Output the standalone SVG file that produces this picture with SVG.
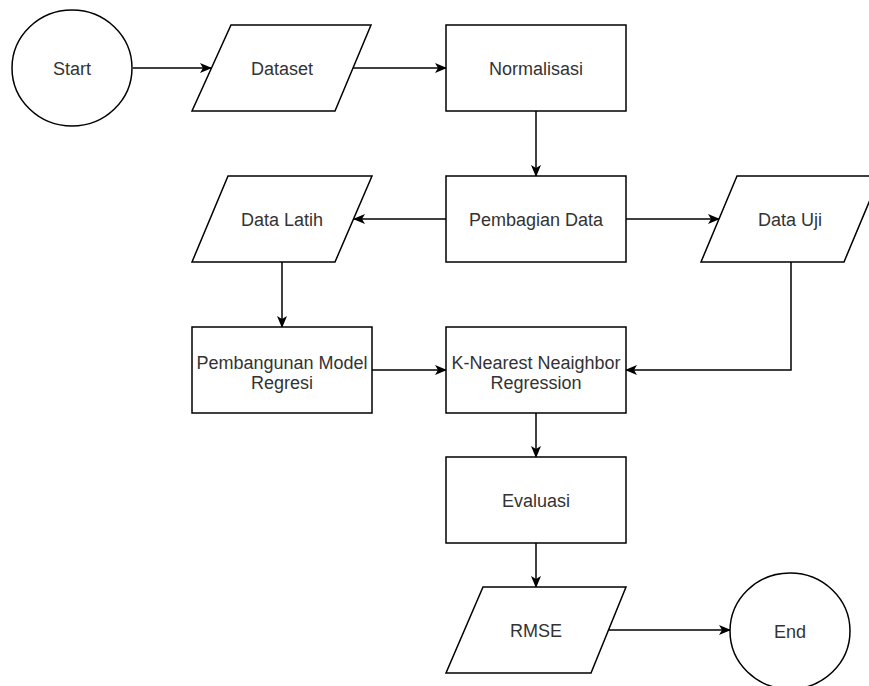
<svg xmlns="http://www.w3.org/2000/svg" width="869" height="686" viewBox="0 0 869 686">
<style>
.s{fill:#fff;stroke:#000;stroke-width:1.5}
.c{fill:none;stroke:#000;stroke-width:1.5}
text{font-family:"Liberation Sans",Arial,sans-serif;font-size:18px;fill:#333;text-anchor:middle}
</style>
<defs>
<marker id="a" viewBox="0 0 12 10" refX="11" refY="5" markerWidth="12" markerHeight="10" markerUnits="userSpaceOnUse" orient="auto">
<path d="M0,0 L12,5 L0,10 L3,5 Z" fill="#000"/>
</marker>
</defs>
<rect width="869" height="686" fill="#fff"/>
<g id="connectors">
<line class="c" x1="133" y1="68" x2="211" y2="68" marker-end="url(#a)"/>
<line class="c" x1="353" y1="68" x2="446" y2="68" marker-end="url(#a)"/>
<line class="c" x1="536" y1="111" x2="536" y2="176" marker-end="url(#a)"/>
<line class="c" x1="446" y1="219" x2="354" y2="219" marker-end="url(#a)"/>
<line class="c" x1="626" y1="219" x2="719" y2="219" marker-end="url(#a)"/>
<line class="c" x1="282" y1="262" x2="282" y2="327" marker-end="url(#a)"/>
<line class="c" x1="372" y1="370" x2="446" y2="370" marker-end="url(#a)"/>
<polyline class="c" points="791,262 791,370 626,370" marker-end="url(#a)"/>
<line class="c" x1="536" y1="413" x2="536" y2="457" marker-end="url(#a)"/>
<line class="c" x1="536" y1="543" x2="536" y2="587" marker-end="url(#a)"/>
<line class="c" x1="608" y1="630" x2="730" y2="630" marker-end="url(#a)"/>
</g>
<g id="start"><ellipse class="s" cx="72" cy="68" rx="60" ry="58"/><text x="72" y="75">Start</text></g>
<g id="dataset"><polygon class="s" points="231,25 371,25 335,111 192,111"/><text x="282" y="75">Dataset</text></g>
<g id="normalisasi"><rect class="s" x="446" y="25" width="180" height="86"/><text x="536" y="75">Normalisasi</text></g>
<g id="pembagian"><rect class="s" x="446" y="176" width="180" height="86"/><text x="536" y="226">Pembagian Data</text></g>
<g id="datalatih"><polygon class="s" points="228,176 372,176 335,262 192,262"/><text x="282" y="226">Data Latih</text></g>
<g id="datauji"><polygon class="s" points="737,176 880,176 844,262 701,262"/><text x="790" y="226">Data Uji</text></g>
<g id="pembangunan"><rect class="s" x="192" y="327" width="180" height="86"/><text x="282" y="369">Pembangunan Model</text><text x="282" y="389">Regresi</text></g>
<g id="knn"><rect class="s" x="446" y="327" width="180" height="86"/><text x="536" y="369">K-Nearest Neaighbor</text><text x="536" y="389">Regression</text></g>
<g id="evaluasi"><rect class="s" x="446" y="457" width="180" height="86"/><text x="536" y="507">Evaluasi</text></g>
<g id="rmse"><polygon class="s" points="483,587 626,587 591,673 446,673"/><text x="536" y="637">RMSE</text></g>
<g id="end"><ellipse class="s" cx="790" cy="631" rx="60" ry="58"/><text x="790" y="638">End</text></g>
</svg>
